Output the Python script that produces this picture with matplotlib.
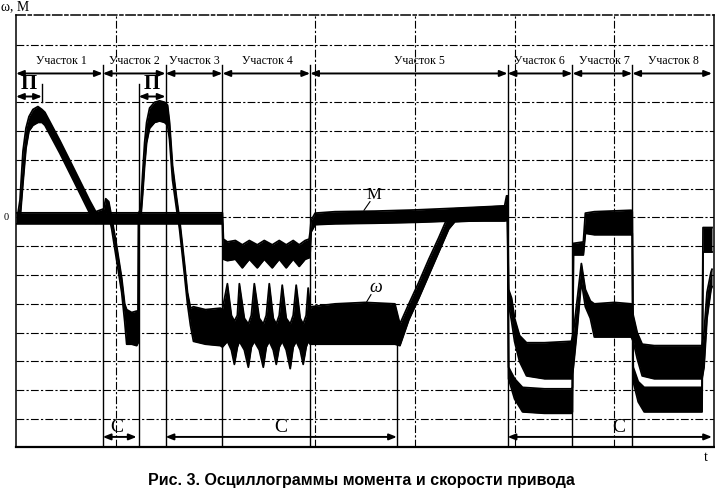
import matplotlib
matplotlib.use("Agg")
import matplotlib.pyplot as plt
import numpy as np

# ---------------- data (time in ms, 100 ms / div; amplitude in divisions) ----------------
# speed omega: upper / lower envelope of the noisy trace
w_t = [2, 4, 7, 10, 13, 17, 22, 26, 29, 44, 59, 74, 80, 88, 90, 93, 96, 101, 106, 109, 111, 116, 121, 122.5,
       123, 125, 127, 129, 131, 134, 139, 144, 149, 152, 154, 157, 161, 164, 169, 172, 175, 178, 190, 205,
       207, 212, 216, 219, 222, 224, 229, 233, 236, 239, 244, 248, 251, 254, 258, 261, 264, 267, 271, 275,
       278, 281, 285, 288, 291, 293, 295,
       296, 320, 350, 380, 385, 394, 404, 414, 424, 434, 440, 470, 492,
       493, 494, 497, 500, 505, 512, 530, 557,
       559, 563, 567, 571, 576, 580, 600, 617,
       619, 623, 628, 640, 688, 690, 693, 697, 698]
w_top = [0.15, 0.6, 2.3, 3.1, 3.5, 3.75, 3.85, 3.75, 3.65, 2.67, 1.63, 0.58, 0.2, 0.3, 0.65, 0.55, 0.0, -1.0, -2.1, -3.0,
         -3.2, -3.3, -3.25, -3.3,
         0.15, 0.3, 1.5, 2.6, 3.3, 3.8, 4.0, 4.05, 4.0, 3.9, 3.3, 1.8, 0.7, -0.05, -1.6, -2.6, -3.15, -3.1, -3.2, -3.15,
         -3.2, -2.3, -3.4, -3.6, -3.4, -2.3, -3.5, -3.7, -3.4, -2.3, -3.5, -3.7, -3.4, -2.3, -3.5, -3.7, -3.4, -2.35,
         -3.5, -3.7, -3.4, -2.35, -3.5, -3.7, -3.4, -2.45, -3.2,
         -3.1, -3.0, -2.95, -3.0, -3.7, -3.0, -2.25, -1.45, -0.7, 0.1, 0.3, 0.35, 0.4,
         0.4, -2.5, -2.8, -3.5, -4.1, -4.35, -4.35, -4.3,
         -4.0, -2.8, -1.6, -2.5, -2.9, -3.0, -2.95, -3.0,
         -3.4, -4.0, -4.4, -4.45, -4.45, -4.0, -2.6, -1.9, -1.8]
w_bot = [-0.15, -0.1, 1.2, 2.4, 3.0, 3.2, 3.3, 3.3, 3.2, 2.23, 1.19, 0.14, -0.2, -0.15, 0.2, 0.1, -0.4, -1.5, -2.6, -3.6,
         -4.4, -4.4, -4.45, -4.35,
         -0.15, -0.1, 0.8, 1.8, 2.6, 3.1, 3.3, 3.35, 3.3, 3.2, 2.7, 1.3, 0.3, -0.4, -2.0, -3.0, -3.75, -4.3, -4.4, -4.45,
         -4.5, -4.3, -4.6, -5.1, -4.5, -4.3, -4.6, -5.2, -4.5, -4.3, -4.6, -5.2, -4.5, -4.3, -4.6, -5.1, -4.5, -4.3,
         -4.6, -5.25, -4.5, -4.3, -4.6, -5.1, -4.5, -4.3, -4.4,
         -4.4, -4.4, -4.4, -4.4, -4.45, -3.55, -2.8, -2.0, -1.2, -0.4, -0.15, -0.1, -0.1,
         -0.1, -3.0, -3.6, -4.3, -5.0, -5.5, -5.6, -5.6,
         -5.2, -3.8, -2.2, -3.1, -3.5, -4.15, -4.15, -4.15,
         -4.3, -4.9, -5.5, -5.6, -5.6, -5.2, -3.5, -2.5, -2.4]

# torque M: upper / lower envelope
m_t = [0, 207, 208, 212, 220, 227, 234, 242, 249, 257, 264, 271, 278, 284, 290, 294,
       295, 296, 300, 320, 360, 400, 440, 490, 492,
       493, 494, 500, 508, 530, 557,
       558, 559, 569, 571, 580, 617,
       618, 619, 624, 630, 688, 689, 698]
m_top = [0.16, 0.16, -0.75, -0.85, -0.8, -0.95, -0.8, -0.95, -0.8, -0.95, -0.8, -0.95, -0.8, -0.95, -0.8, -0.75,
         -0.5, -0.1, 0.15, 0.2, 0.22, 0.26, 0.32, 0.4, 0.75,
         0.75, -5.2, -5.6, -5.9, -5.95, -5.95,
         -5.9, -0.9, -0.85, 0.15, 0.2, 0.25,
         0.2, -5.2, -5.7, -5.9, -5.9, -0.35, -0.35]
m_bot = [-0.22, -0.22, -1.45, -1.5, -1.45, -1.75, -1.45, -1.75, -1.45, -1.75, -1.45, -1.75, -1.45, -1.7, -1.45, -1.4,
         -1.2, -0.5, -0.25, -0.22, -0.2, -0.17, -0.12, -0.12, -0.1,
         -0.1, -5.6, -6.3, -6.75, -6.8, -6.8,
         -6.75, -1.3, -1.3, -0.55, -0.6, -0.6,
         -0.55, -5.7, -6.4, -6.75, -6.75, -1.2, -1.2]

# section boundaries and labels
sec_bounds = [0, 87, 150, 207, 295, 493, 558, 618, 698]
sec_labels = ["Участок 1", "Участок 2", "Участок 3", "Участок 4",
              "Участок 5", "Участок 6", "Участок 7", "Участок 8"]
sec_label_t = [46, 119, 179, 252, 405, 525, 590, 659]
p_spans = [(0, 26), (123, 150)]          # "П" intervals
c_spans = [(87, 121), (150, 382), (493, 698)]   # "С" intervals
c_label_t = [101, 266, 604]
extra_lines = [(123, 4.65), (382, -4.0)]  # (time, top level) of extra markers
grid_t = [100, 300, 400, 500, 600]

# ---------------- figure ----------------
W, H = 715, 490
fig = plt.figure(figsize=(W / 100, H / 100), dpi=100)
fig.patch.set_facecolor("white")
ax = fig.add_axes([16 / W, 43 / H, 698 / W, 432 / H])
ax.set_xlim(0, 700)
ax.set_ylim(-7.97, 7.03)
ax.set_xticks([])
ax.set_yticks([])
for s in ax.spines.values():
    s.set_color("black")
    s.set_linewidth(1.1)
ax.spines["bottom"].set_linewidth(1.6)
ax.spines["top"].set_linestyle((0, (6, 2, 2, 2)))

dash = (0, (7, 2, 2, 2))
for yv in range(-7, 7):
    if yv == 5:
        continue
    ax.axhline(yv, color="black", lw=0.8, ls=dash, zorder=1)
for xv in grid_t:
    ax.axvline(xv, color="black", lw=0.8, ls=dash, zorder=1)

def trace(t, top, bot):
    ax.fill_between(t, bot, top, color="black", lw=0, zorder=3)
    ax.plot(t, top, color="black", lw=1.3, zorder=3)
    ax.plot(t, bot, color="black", lw=1.3, zorder=3)

trace(m_t, m_top, m_bot)
trace(w_t, w_top, w_bot)

# section boundary lines
for b in sec_bounds[1:-1]:
    ax.plot([b, b], [5.3, -7.97], color="black", lw=1.0, zorder=4)
for tx, top in extra_lines:
    ax.plot([tx, tx], [top, -7.97], color="black", lw=1.0, zorder=4)
ax.plot([26, 26], [4.65, 4.0], color="black", lw=1.0, zorder=4)

arrow = dict(arrowstyle="<|-|>,head_length=0.45,head_width=0.18", color="black",
             lw=1.4, shrinkA=0, shrinkB=0)
for a, b in zip(sec_bounds[:-1], sec_bounds[1:]):
    ax.annotate("", xy=(a, 5.0), xytext=(b, 5.0), arrowprops=arrow, zorder=5)
for lab, tx in zip(sec_labels, sec_label_t):
    ax.text(tx, 5.42, lab, ha="center", va="center", fontsize=8.6,
            family="Liberation Serif", zorder=5)

for a, b in p_spans:
    ax.annotate("", xy=(a, 4.2), xytext=(b, 4.2), arrowprops=arrow, zorder=5)
    ax.text((a + b) / 2, 4.62, "П", ha="center", va="center", fontsize=15,
            family="Liberation Serif", fontweight="bold", zorder=5)
for (a, b), tx in zip(c_spans, c_label_t):
    ax.annotate("", xy=(a, -7.62), xytext=(b, -7.62), arrowprops=arrow, zorder=5)
    ax.text(tx, -7.3, "С", ha="center", va="center", fontsize=14,
            family="Liberation Serif", zorder=5)

# curve labels
ax.plot([349, 355], [0.25, 0.55], color="black", lw=0.8, zorder=5)
ax.text(359, 0.78, "M", ha="center", va="center", fontsize=12,
        family="Liberation Serif", zorder=5)
ax.plot([347, 356], [-3.2, -2.68], color="black", lw=0.8, zorder=5)
ax.text(361, -2.42, "ω", ha="center", va="center", fontsize=13,
        family="Liberation Serif", style="italic", zorder=5)

# axis texts
fig.text(1 / W, 1 - 7 / H, "ω, M", ha="left", va="center", fontsize=10,
         family="Liberation Serif")
fig.text(6 / W, 1 - 217 / H, "0", ha="center", va="center", fontsize=7.5,
         family="Liberation Serif")
fig.text(706 / W, 1 - 457 / H, "t", ha="center", va="center", fontsize=10,
         family="Liberation Serif")
fig.text(361 / W, 1 - 480 / H, "Рис. 3. Осциллограммы момента и скорости привода",
         ha="center", va="center", fontsize=11.5, family="Liberation Sans",
         fontweight="bold")

fig.savefig("out.png", dpi=100, facecolor="white")
